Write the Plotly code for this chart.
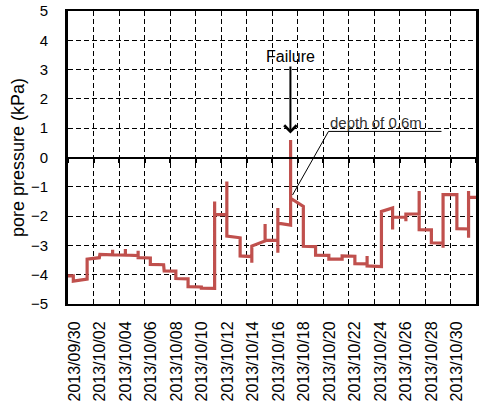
import plotly.graph_objects as go
import pandas as pd

# ---- data ----
times = [
    "2013-09-30 00:00", "2013-09-30 10:00", "2013-09-30 10:00",
    "2013-10-01 12:00", "2013-10-01 12:00",
    "2013-10-02 11:00", "2013-10-02 12:00",
    "2013-10-03 12:00", "2013-10-03 12:00", "2013-10-03 12:00",
    "2013-10-04 12:00", "2013-10-04 12:00", "2013-10-04 12:00",
    "2013-10-05 12:00", "2013-10-05 12:00", "2013-10-05 12:00",
    "2013-10-06 11:00", "2013-10-06 11:00",
    "2013-10-07 12:00", "2013-10-07 13:00",
    "2013-10-08 11:00", "2013-10-08 11:00",
    "2013-10-09 10:00", "2013-10-09 10:00",
    "2013-10-10 11:00", "2013-10-10 11:00",
    "2013-10-11 12:00", "2013-10-11 12:00", "2013-10-11 12:00",
    "2013-10-12 11:00", "2013-10-12 11:00", "2013-10-12 11:00",
    "2013-10-13 12:00", "2013-10-13 12:00",
    "2013-10-14 10:00", "2013-10-14 10:00", "2013-10-14 10:00",
    "2013-10-15 11:00", "2013-10-15 11:00", "2013-10-15 11:00",
    "2013-10-16 11:00", "2013-10-16 11:00", "2013-10-16 11:00", "2013-10-16 11:00",
    "2013-10-17 11:00", "2013-10-17 11:00", "2013-10-17 11:00",
    "2013-10-18 11:00", "2013-10-18 11:00",
    "2013-10-19 10:00", "2013-10-19 10:00",
    "2013-10-20 11:00", "2013-10-20 11:00",
    "2013-10-21 12:00", "2013-10-21 12:00",
    "2013-10-22 12:00", "2013-10-22 12:00",
    "2013-10-23 11:00", "2013-10-23 11:00", "2013-10-23 11:00",
    "2013-10-24 14:00", "2013-10-24 14:00",
    "2013-10-25 11:00", "2013-10-25 11:00", "2013-10-25 11:00",
    "2013-10-26 12:00", "2013-10-26 12:00", "2013-10-26 12:00",
    "2013-10-27 13:00", "2013-10-27 13:00", "2013-10-27 13:00",
    "2013-10-28 12:00", "2013-10-28 12:00",
    "2013-10-29 10:00", "2013-10-29 10:00", "2013-10-29 10:00",
    "2013-10-30 12:00", "2013-10-30 12:00",
    "2013-10-31 10:00", "2013-10-31 10:00", "2013-10-31 10:00", "2013-10-31 10:00",
    "2013-11-01 00:00",
]
pore_pressure = [
    -4.04, -4.04, -4.22,
    -4.15, -3.47,
    -3.42, -3.31,
    -3.32, -3.15, -3.32,
    -3.33, -3.12, -3.33,
    -3.35, -3.18, -3.42,
    -3.43, -3.65,
    -3.66, -3.87,
    -3.88, -4.13,
    -4.14, -4.41,
    -4.42, -4.46,
    -4.47, -1.50, -1.95,
    -1.95, -0.82, -2.68,
    -2.74, -3.36,
    -3.38, -3.59, -3.02,
    -2.85, -2.27, -2.83,
    -2.83, -1.72, -3.25, -2.24,
    -2.31, 0.60, -1.39,
    -1.67, -3.03,
    -3.04, -3.33,
    -3.34, -3.47,
    -3.47, -3.36,
    -3.37, -3.62,
    -3.63, -3.36, -3.70,
    -3.72, -1.84,
    -1.72, -2.46, -2.04,
    -2.04, -2.18, -1.93,
    -1.92, -1.14, -2.46,
    -2.47, -2.91,
    -2.92, -3.08, -1.27,
    -1.27, -2.43,
    -2.44, -2.74, -1.14, -1.36,
    -1.36,
]

label_days = pd.date_range("2013-09-30", "2013-10-30", freq="2D")
tick_positions = [d + pd.Timedelta(hours=12) for d in label_days]
tick_labels = [d.strftime("%Y/%m/%d") for d in label_days]

x_range = ["2013-09-30", "2013-11-01"]
y_ticks = list(range(-5, 6))

font_family = "Liberation Sans"
TWO_DAYS_MS = 2 * 86400000

fig = go.Figure()
fig.add_trace(go.Scatter(
    x=times, y=pore_pressure, mode="lines",
    line=dict(color="#C0504D", width=3.2),
    showlegend=False, hoverinfo="skip",
))
# helper trace for the axis drawn at y = 0
fig.add_trace(go.Scatter(
    x=[x_range[0]], y=[0], xaxis="x2", mode="lines",
    line=dict(width=0), showlegend=False, hoverinfo="skip",
))

fig.update_layout(
    width=481, height=403,
    margin=dict(l=68, r=2, t=11, b=96),
    paper_bgcolor="white", plot_bgcolor="white",
    font=dict(family=font_family, color="black"),
    xaxis=dict(
        type="date", range=x_range,
        tickmode="array", tickvals=tick_positions, ticktext=tick_labels,
        tickangle=-90, tickfont=dict(size=16, family=font_family, color="black"),
        ticks="", showgrid=False, ticklabelstandoff=9,
        showline=True, linecolor="black", linewidth=2, mirror=True,
        minor=dict(tick0="2013-09-30", dtick=TWO_DAYS_MS, showgrid=True,
                   gridcolor="black", gridwidth=1, griddash="5px,3px", ticks=""),
        zeroline=False,
    ),
    xaxis2=dict(
        type="date", range=x_range, overlaying="x", anchor="free", position=0.5,
        showline=True, linecolor="black", linewidth=2,
        tickmode="linear", tick0="2013-09-30", dtick=TWO_DAYS_MS,
        ticks="outside", ticklen=4, tickwidth=2, tickcolor="black",
        showticklabels=False, showgrid=False, zeroline=False,
    ),
    yaxis=dict(
        range=[-5, 5], tickmode="array", tickvals=y_ticks,
        tickfont=dict(size=15, family=font_family, color="black"),
        ticks="", ticklabelstandoff=14,
        showgrid=True, gridcolor="black", gridwidth=1, griddash="5px,3px",
        showline=True, linecolor="black", linewidth=3, mirror=True,
        zeroline=False,
        title=dict(text="pore pressure (kPa)", font=dict(size=18, family=font_family, color="black"),
                   standoff=2),
    ),
)

fig.add_annotation(
    x="2013-10-17 10:40", y=0.82, xref="x", yref="y",
    text="Failure", showarrow=True, ax=0, ay=-77,
    arrowhead=4, arrowsize=1.2, arrowwidth=2, arrowcolor="black",
    font=dict(size=16, family=font_family, color="black"),
)
fig.add_annotation(
    x="2013-10-24 04:30", y=1.19, xref="x", yref="y",
    text="depth of 0.6m", showarrow=False,
    font=dict(size=15, family=font_family, color="#333333"),
)
fig.add_shape(type="line", xref="x", yref="y",
              x0="2013-10-17 14:40", y0=-1.28, x1="2013-10-20 10:20", y1=0.89,
              line=dict(color="black", width=1))
fig.add_shape(type="line", xref="x", yref="y",
              x0="2013-10-20 10:20", y0=0.89, x1="2013-10-29 07:00", y1=0.89,
              line=dict(color="black", width=1))

fig.write_html("out.html")
